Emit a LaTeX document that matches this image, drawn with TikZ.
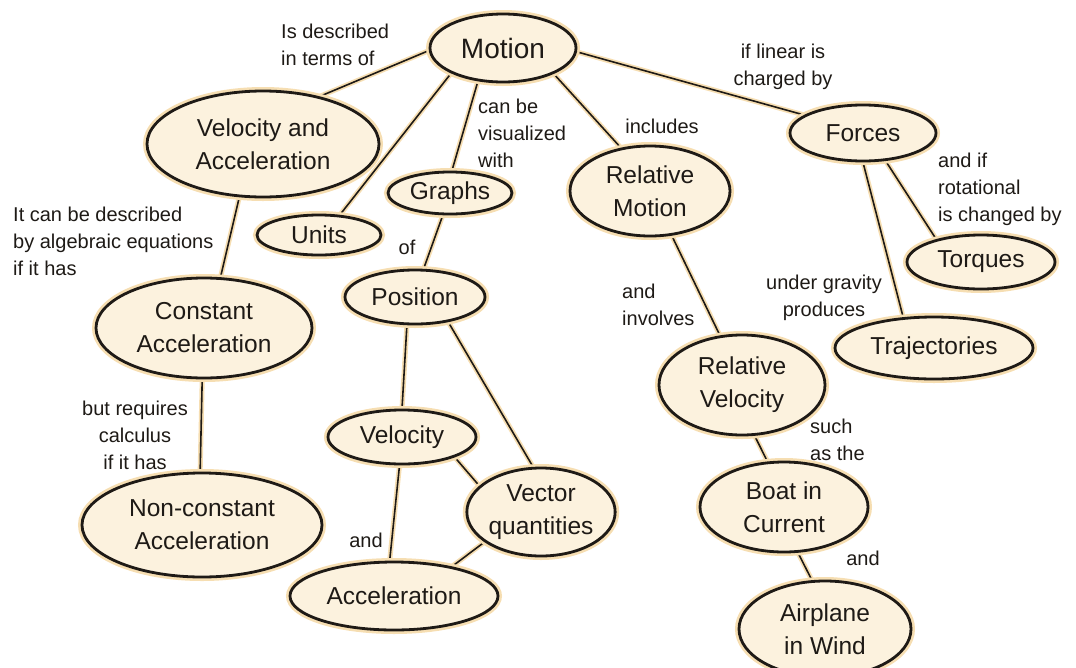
\documentclass[tikz,border=0pt]{standalone}
\usepackage{fontspec}
\setmainfont{Liberation Sans}
\usetikzlibrary{shapes.geometric,backgrounds}
\definecolor{cream}{RGB}{252,242,222}
\definecolor{glow}{RGB}{246,222,178}
\definecolor{ink}{RGB}{30,26,22}
\tikzset{
	concept/.style={ellipse, draw=ink, line width=2.8pt, fill=cream, inner sep=0pt, align=center, text=ink,
		font=\fontsize{24.5}{33}\selectfont, preaction={draw=glow, line width=8pt}},
	link/.style={text=ink, font=\fontsize{20}{27}\selectfont, inner sep=0pt},
	edgeline/.style={draw=ink, line width=1.6pt, preaction={draw=glow, line width=5pt}}
}
\begin{document}
\begin{tikzpicture}[x=1pt,y=-1pt]
	\useasboundingbox (0,0) rectangle (1076,667);
	\clip (0,0) rectangle (1076,667);
	% concepts
	\node [concept, minimum width=146pt, minimum height=68pt, font=\fontsize{28}{33}\selectfont] (motion) at (503,48) {Motion};
	\node [concept, minimum width=232pt, minimum height=106pt] (velacc) at (263,144) {Velocity and\\Acceleration};
	\node [concept, minimum width=124pt, minimum height=40pt] (units) at (319,235) {Units};
	\node [concept, minimum width=124pt, minimum height=42pt] (graphs) at (450,193) {Graphs};
	\node [concept, minimum width=140pt, minimum height=54pt] (position) at (415,297) {Position};
	\node [concept, minimum width=216pt, minimum height=100pt] (constacc) at (204,328) {Constant\\Acceleration};
	\node [concept, minimum width=240pt, minimum height=104pt] (nonconst) at (202,525) {Non-constant\\Acceleration};
	\node [concept, minimum width=148pt, minimum height=54pt] (velocity) at (402,437) {Velocity};
	\node [concept, minimum width=148pt, minimum height=88pt] (vector) at (541,512) {Vector\\quantities};
	\node [concept, minimum width=208pt, minimum height=68pt] (accel) at (394,596) {Acceleration};
	\node [concept, minimum width=160pt, minimum height=90pt] (relmotion) at (650,191) {Relative\\Motion};
	\node [concept, minimum width=166pt, minimum height=100pt] (relvel) at (742,385) {Relative\\Velocity};
	\node [concept, minimum width=168pt, minimum height=90pt] (boat) at (784,507) {Boat in\\Current};
	\node [concept, minimum width=172pt, minimum height=96pt] (airplane) at (825,629) {Airplane\\in Wind};
	\node [concept, minimum width=146pt, minimum height=56pt] (forces) at (863,133) {Forces};
	\node [concept, minimum width=148pt, minimum height=54pt] (torques) at (981,262) {Torques};
	\node [concept, minimum width=198pt, minimum height=62pt] (traj) at (934,348) {Trajectories};
	% links
	\begin{scope}[on background layer]
		\draw [edgeline] (motion.182) -- (velacc.40);
		\draw [edgeline] (motion.206) -- (units.44);
		\draw [edgeline] (motion.233) -- (graphs.85);
		\draw [edgeline] (motion.333) -- (relmotion.124);
		\draw [edgeline] (motion.357) -- (forces.163);
		\draw [edgeline] (graphs.252) -- (position.73);
		\draw [edgeline] (velacc.246) -- (constacc.72);
		\draw [edgeline] (constacc.268) -- (nonconst.92);
		\draw [edgeline] (position.254) -- (velocity.90);
		\draw [edgeline] (position.323) -- (vector.100);
		\draw [edgeline] (velocity.339) -- (vector.157);
		\draw [edgeline] (velocity.265) -- (accel.97);
		\draw [edgeline] (vector.208) -- (accel.27);
		\draw [edgeline] (relmotion.296) -- (relvel.114);
		\draw [edgeline] (relvel.284) -- (boat.110);
		\draw [edgeline] (boat.287) -- (airplane.105);
		\draw [edgeline] (forces.309) -- (torques.153);
		\draw [edgeline] (forces.270) -- (traj.135);
	\end{scope}
	% link labels
	\node [link, anchor=west, align=left] (lbldescribed) at (281,45) {Is described\\in terms of};
	\node [link, anchor=west, align=left] (lblvisual) at (478,133) {can be\\visualized\\with};
	\node [link] (lblincludes) at (662,126) {includes};
	\node [link, align=center] (lbllinear) at (783,67) {if linear is\\charged by};
	\node [link, anchor=west, align=left] (lblalgebra) at (13,241) {It can be described\\by algebraic equations\\if it has};
	\node [link] (lblof) at (407,247) {of};
	\node [link, anchor=west, align=left] (lblrotation) at (938,189) {and if\\rotational\\is changed by};
	\node [link, align=center] (lblgravity) at (824,298) {under gravity\\produces};
	\node [link, anchor=west, align=left] (lblinvolves) at (622,305) {and\\involves};
	\node [link, align=center] (lblcalculus) at (135,435) {but requires\\calculus\\if it has};
	\node [link, anchor=west, align=left] (lblsuch) at (810,440) {such\\as the};
	\node [link] (lbland) at (366,540) {and};
	\node [link] (lblandwind) at (863,558) {and};
\end{tikzpicture}
\end{document}
